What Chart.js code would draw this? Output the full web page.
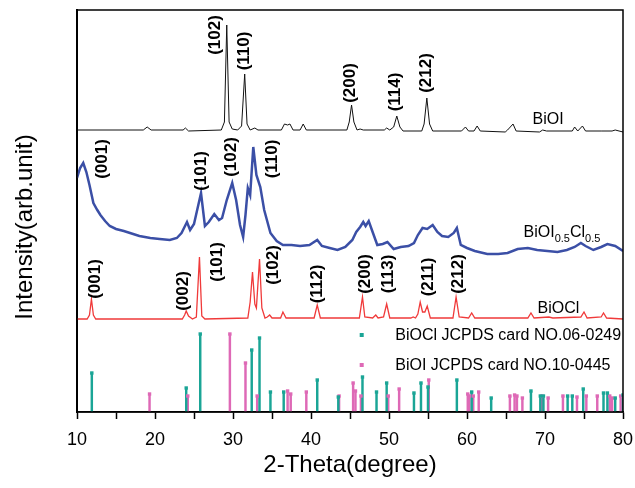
<!DOCTYPE html>
<html lang="en">
    <head>
        <meta charset="UTF-8" />
        <title>XRD patterns</title>
        <script src="https://cdn.jsdelivr.net/npm/chart.js@4"></script>
        <style>
            body { margin: 0; background: #fff; }
        </style>
    </head>
    <body>
        <canvas id="xrdChart" width="635" height="488"></canvas>

        <script>
            // 2-theta (degree), relative intensity (stacked offset already included)
            const biOI = [
                [10, 282], [18.5, 282], [19, 285], [19.5, 282], [23.6, 282], [23.9, 284], [24.3, 281],
                [28.5, 282], [28.9, 290], [29.2, 387], [29.5, 290], [29.9, 283], [30.6, 282], [31.1, 286],
                [31.5, 338], [31.8, 288], [32.2, 282], [32.8, 284], [33.2, 282], [36.2, 282], [36.6, 288],
                [37.0, 287], [37.3, 288], [37.7, 282], [38.6, 282], [39.0, 288], [39.4, 282], [44.6, 282],
                [44.9, 290], [45.2, 307], [45.5, 290], [45.9, 282], [46.3, 283], [46.7, 282], [49.4, 282],
                [49.7, 284], [50.1, 282], [50.6, 285], [51.0, 296], [51.4, 285], [51.8, 281], [54.2, 281],
                [54.5, 288], [54.85, 314], [55.2, 288], [55.6, 281], [59.3, 281], [59.8, 285], [60.2, 281],
                [60.9, 281], [61.3, 286], [61.7, 281], [64.9, 280], [65.2, 282], [65.9, 288], [66.3, 281],
                [69.3, 280], [69.7, 282], [70.2, 281], [73.5, 281], [73.8, 285], [74.2, 281], [74.8, 286],
                [75.2, 281], [77.2, 281], [78.6, 281], [79.0, 282], [80, 280]
            ];

            const biOIC = [
                [10.0, 234], [10.4, 244], [10.8, 249], [11.2, 240], [11.6, 227], [12.1, 209], [12.6, 202],
                [13.0, 197], [13.6, 191], [14.2, 186], [15, 183], [16, 181], [16.8, 179], [18, 176],
                [19.4, 174], [20.6, 173], [21.9, 172], [22.8, 174], [23.4, 179], [24.1, 190], [24.5, 182],
                [25.0, 188], [25.9, 219], [26.4, 186], [26.9, 190], [27.6, 198], [28.2, 192], [28.6, 194],
                [29.2, 212], [29.9, 229], [30.4, 212], [30.9, 187], [31.3, 175], [31.6, 197], [31.9, 224],
                [32.2, 217], [32.6, 265], [33.0, 237], [33.5, 225], [34.0, 202], [34.8, 179], [35.6, 171],
                [36.4, 167], [37.5, 167], [38.6, 166], [39.8, 167], [40.8, 172], [41.4, 166], [42.4, 164],
                [43.4, 162], [44.4, 165], [45.3, 172], [45.8, 180], [46.3, 185], [46.7, 190], [47.0, 186],
                [47.4, 191], [47.9, 180], [48.5, 167], [49.2, 168], [49.8, 170], [50.6, 163], [51.5, 165],
                [52.5, 166], [53.2, 169], [53.7, 177], [54.3, 184], [54.9, 183], [55.6, 187], [56.2, 180],
                [56.8, 176], [57.6, 175], [58.3, 179], [58.7, 184], [59.2, 167], [60.0, 164], [61.0, 161],
                [62.6, 158], [64.0, 158], [65.2, 159], [66.5, 163], [67.8, 164], [69.0, 162], [70.3, 161],
                [71.6, 160], [72.8, 162], [73.8, 165], [74.6, 169], [75.2, 166], [76.2, 162], [77.2, 165],
                [78.0, 168], [79.0, 166], [80.0, 161]
            ];

            const biOCl = [
                [10, 93], [11.3, 93], [11.6, 97], [11.85, 113], [12.1, 97], [12.4, 93], [23.5, 93],
                [23.8, 97], [24.0, 101], [24.3, 96], [24.8, 93], [25.3, 95], [25.7, 155], [26.0, 96],
                [26.4, 93], [31.9, 94], [32.2, 110], [32.5, 140], [32.8, 108], [33.0, 104], [33.4, 153],
                [33.7, 104], [34.1, 94], [34.4, 95], [34.7, 97], [35.0, 94], [36.1, 94], [36.4, 100],
                [36.8, 94], [40.4, 94], [40.8, 107], [41.2, 94], [46.2, 94], [46.6, 115], [46.9, 95],
                [47.9, 94], [48.3, 97], [48.6, 94], [49.3, 95], [49.7, 108], [50.1, 94], [52.8, 94],
                [53.1, 95], [53.4, 94], [53.7, 98], [54.0, 110], [54.3, 100], [54.6, 100], [54.9, 106],
                [55.3, 94], [58.2, 94], [58.6, 115], [59.0, 95], [60.2, 94], [60.6, 99], [61.0, 94],
                [67.8, 94], [68.2, 99], [68.6, 94], [70.5, 95], [71, 94], [74.6, 95], [75.0, 100],
                [75.4, 94], [77.2, 95], [77.5, 99], [77.9, 94], [80, 93]
            ];

            // reference cards: position, stick height
            const cardBiOCl = [
                [11.9, 39], [24.0, 24], [25.8, 78], [32.4, 62], [33.4, 74], [34.8, 20], [36.5, 20],
                [40.8, 32], [43.5, 15], [46.6, 35], [48.4, 20], [49.7, 29], [53.2, 19], [54.1, 29],
                [55.0, 25], [58.7, 32], [60.6, 20], [63.1, 14], [68.2, 21], [69.4, 16], [69.8, 16],
                [72.9, 16], [73.5, 16], [74.9, 23], [77.5, 19], [78.0, 19], [79.0, 14], [80.0, 17]
            ];
            const cardBiOI = [
                [19.3, 18], [24.2, 16], [29.6, 78], [31.6, 49], [33.1, 16], [37.0, 21], [37.4, 18],
                [39.4, 20], [43.6, 16], [45.4, 29], [45.7, 21], [46.4, 16], [49.9, 16], [51.3, 23],
                [55.1, 32], [60.1, 18], [60.3, 16], [60.8, 16], [61.5, 20], [65.5, 16], [66.1, 17],
                [66.4, 16], [67.1, 14], [69.6, 16], [70.4, 14], [72.3, 16], [74.1, 15], [75.3, 16],
                [76.7, 16], [78.3, 16], [78.6, 14], [79.7, 16]
            ];

            // peak indices: text, 2-theta, height
            const peakLabels = [
                ['(102)', 27.7, 377], ['(110)', 31.4, 361], ['(200)', 45.0, 329], ['(114)', 50.8, 320],
                ['(212)', 54.8, 339],
                ['(001)', 13.3, 253], ['(101)', 26.0, 241], ['(102)', 29.8, 255], ['(110)', 35.0, 253],
                ['(001)', 12.3, 133], ['(002)', 23.6, 121], ['(101)', 28.0, 150], ['(102)', 35.2, 147],
                ['(112)', 40.8, 128], ['(200)', 47.0, 138], ['(113)', 49.9, 138], ['(211)', 55.1, 135],
                ['(212)', 58.9, 138]
            ];

            const xTicks = [10, 20, 30, 40, 50, 60, 70, 80];

            const TEAL = '#1aa596';
            const PINK = '#de69b6';
            const BLUE = '#3b4fa6';
            const RED = '#f03a3a';
            const FONT = '"Liberation Sans", Arial, sans-serif';

            const toXY = arr => arr.map(p => ({ x: p[0], y: p[1] }));

            const decorPlugin = {
                id: 'decor',
                afterDatasetsDraw(chart) {
                    const { ctx, chartArea: a, scales: { x, y } } = chart;
                    ctx.save();

                    // frame
                    ctx.strokeStyle = '#000';
                    ctx.lineWidth = 1.5;
                    ctx.strokeRect(a.left, a.top, a.right - a.left, a.bottom - a.top);

                    // peak labels
                    ctx.fillStyle = '#000';
                    ctx.font = 'bold 17px ' + FONT;
                    ctx.textAlign = 'center';
                    ctx.textBaseline = 'middle';
                    peakLabels.forEach(([t, lx, ly]) => {
                        ctx.save();
                        ctx.translate(x.getPixelForValue(lx), y.getPixelForValue(ly));
                        ctx.rotate(-Math.PI / 2);
                        ctx.fillText(t, 0, 0);
                        ctx.restore();
                    });

                    // sample names
                    ctx.font = '16px ' + FONT;
                    ctx.textAlign = 'left';
                    ctx.textBaseline = 'alphabetic';
                    ctx.fillText('BiOI', x.getPixelForValue(68.4), y.getPixelForValue(288));
                    ctx.fillText('BiOCl', x.getPixelForValue(69.05), y.getPixelForValue(99));
                    let px = x.getPixelForValue(67.25);
                    const py = y.getPixelForValue(175);
                    const parts = [['BiOI', false], ['0.5', true], ['Cl', false], ['0.5', true]];
                    parts.forEach(([t, sub]) => {
                        ctx.font = (sub ? '11px ' : '16px ') + FONT;
                        ctx.fillText(t, px, py + (sub ? 5 : 0));
                        px += ctx.measureText(t).width;
                    });

                    // legend
                    ctx.font = '16px ' + FONT;
                    ctx.textBaseline = 'middle';
                    [[TEAL, 'BiOCl JCPDS card NO.06-0249', 77], [PINK, 'BiOI JCPDS card NO.10-0445', 47]].forEach(([c, t, ly]) => {
                        const my = y.getPixelForValue(ly);
                        ctx.fillStyle = c;
                        ctx.fillRect(x.getPixelForValue(46.5) - 2, my - 2, 4, 4);
                        ctx.fillStyle = '#000';
                        ctx.fillText(t, x.getPixelForValue(50.8), my + 1);
                    });

                    // y title
                    ctx.font = '24px ' + FONT;
                    ctx.textAlign = 'center';
                    ctx.save();
                    ctx.translate(25, 227);
                    ctx.rotate(-Math.PI / 2);
                    ctx.fillText('Intensity(arb.unit)', 0, 0);
                    ctx.restore();

                    ctx.restore();
                }
            };

            const lineDs = (label, data, color, width) => ({
                type: 'line',
                label,
                data: toXY(data),
                borderColor: color,
                borderWidth: width,
                pointRadius: 0,
                tension: 0,
                order: 2
            });
            const stickDs = (label, data, color) => ({
                type: 'bar',
                label,
                data: toXY(data),
                backgroundColor: color,
                barThickness: 1.8,
                grouped: false,
                order: 1
            });
            const tipDs = (label, data, color) => ({
                type: 'scatter',
                label,
                data: toXY(data),
                backgroundColor: color,
                borderWidth: 0,
                pointStyle: 'rect',
                pointRadius: 2.4,
                order: 0
            });

            new Chart(document.getElementById('xrdChart'), {
                type: 'line',
                data: {
                    datasets: [
                        lineDs('BiOI', biOI, '#111', 1),
                        lineDs('BiOI0.5Cl0.5', biOIC, BLUE, 2.5),
                        lineDs('BiOCl', biOCl, RED, 1.3),
                        stickDs('BiOCl card', cardBiOCl, TEAL),
                        stickDs('BiOI card', cardBiOI, PINK),
                        tipDs('BiOCl tips', cardBiOCl, TEAL),
                        tipDs('BiOI tips', cardBiOI, PINK)
                    ]
                },
                options: {
                    responsive: false,
                    animation: false,
                    layout: { padding: { top: 10, right: 12, left: 0, bottom: 0 } },
                    plugins: {
                        legend: { display: false },
                        tooltip: { enabled: false }
                    },
                    scales: {
                        x: {
                            type: 'linear',
                            min: 10,
                            max: 80,
                            offset: false,
                            grid: {
                                offset: false,
                                drawOnChartArea: false,
                                tickLength: 7,
                                tickColor: '#000',
                                tickWidth: 1.5
                            },
                            border: { color: '#000', width: 1.5 },
                            afterBuildTicks: s => {
                                s.ticks = [];
                                for (let v = 10; v <= 80; v += 5) s.ticks.push({ value: v });
                            },
                            ticks: {
                                autoSkip: false,
                                maxRotation: 0,
                                padding: 10,
                                color: '#000',
                                font: { family: FONT, size: 18 },
                                callback: v => (xTicks.includes(v) ? v : '')
                            },
                            title: {
                                display: true,
                                text: '2-Theta(degree)',
                                color: '#000',
                                font: { family: FONT, size: 24 },
                                padding: { top: 4, bottom: 8 }
                            },
                            afterFit: s => {
                                s.height = 76;
                                s.paddingLeft = 0;
                                s.paddingRight = 0;
                            }
                        },
                        y: {
                            min: 0,
                            max: 402,
                            ticks: { display: false },
                            grid: { display: false },
                            border: { color: '#000', width: 2 },
                            afterFit: s => { s.width = 77; }
                        }
                    }
                },
                plugins: [decorPlugin]
            });
        </script>
    </body>
</html>
